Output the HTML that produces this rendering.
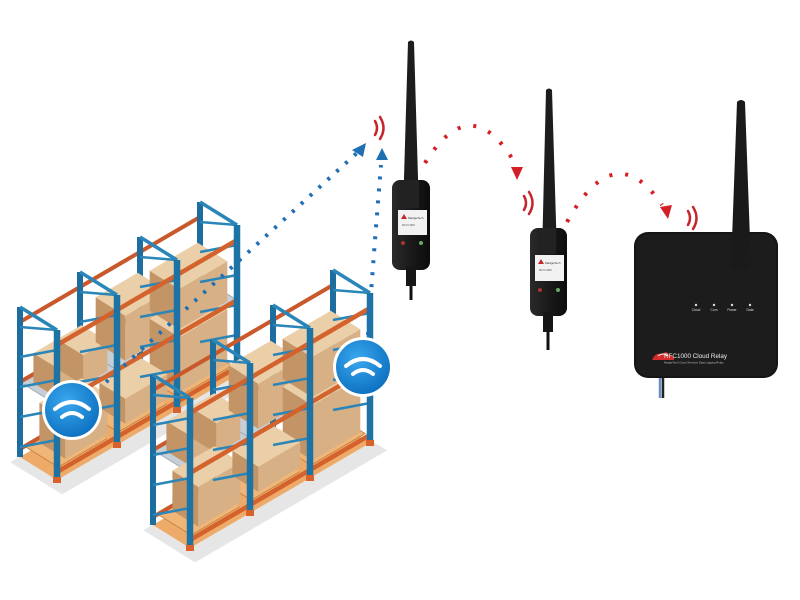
<!DOCTYPE html>
<html><head><meta charset="utf-8">
<style>html,body{margin:0;padding:0;background:#fff;width:800px;height:600px;overflow:hidden}svg{display:block}</style>
</head><body>
<svg id="s" width="800" height="600" viewBox="0 0 800 600" xmlns="http://www.w3.org/2000/svg" font-family="Liberation Sans, sans-serif">
<defs>
<radialGradient id="wg" cx="40%" cy="35%" r="70%"><stop offset="0" stop-color="#3aa8ee"/><stop offset="1" stop-color="#0b6fc0"/></radialGradient>
<linearGradient id="bod" x1="0" x2="1"><stop offset="0" stop-color="#2a2a2a"/><stop offset=".5" stop-color="#1a1a1a"/><stop offset="1" stop-color="#0c0c0c"/></linearGradient>
</defs>
<g id="racks"></g>

<!-- blue dotted connectors -->
<g stroke="#1f6fb5" stroke-width="4" stroke-dasharray="3 9" stroke-linecap="butt" fill="none">
<line x1="106" y1="382" x2="358" y2="152"/>
<path d="M368 335 Q374 250 381 165"/>
</g>
<polygon points="366,143 352,150 363,157" fill="#1f6fb5"/>
<polygon points="382,148 376,160 388,160" fill="#1f6fb5"/>

<!-- red dotted arcs -->
<g stroke="#d51f26" stroke-width="4" stroke-dasharray="3 13" fill="none">
<path d="M425 163 Q470 90 513 160"/>
<path d="M567 222 Q615 135 662 205"/>
</g>
<polygon points="511,167 523,167 517,180" fill="#d51f26"/>
<polygon points="660,207 672,205 668,219" fill="#d51f26"/>

<!-- red wave marks -->
<g stroke="#c4262d" stroke-width="2.5" fill="none" stroke-linecap="round">
<path d="M375 121 q4 7 0 14"/><path d="M380 117 q7 11 0 22"/>
<path d="M524 196 q4 7 0 14"/><path d="M529 192 q7 11 0 22"/>
<path d="M688 211 q4 7 0 14"/><path d="M693 207 q7 11 0 22"/>
</g>

<!-- repeater 1 -->
<g>
<path d="M408 42 q3 -3 6 0 l5 170 h-16 z" fill="#1d1d1d"/>
<line x1="411" y1="285" x2="411" y2="300" stroke="#111" stroke-width="3"/>
<rect x="392" y="180" width="38" height="90" rx="8" fill="url(#bod)"/>
<rect x="403" y="180" width="16" height="28" fill="#222"/>
<rect x="406" y="266" width="10" height="20" fill="#161616"/>
<rect x="398" y="210" width="29" height="25" fill="#f2f2f2"/>
<polygon points="401,219 404,214 407,219" fill="#c52a2a"/>
<text x="408" y="219" font-size="3" fill="#333">MadgeTech</text>
<text x="402" y="226" font-size="3" fill="#555">RFC1000</text>
<circle cx="403" cy="243" r="2" fill="#a33"/><circle cx="421" cy="243" r="2" fill="#6a6"/>
</g>
<!-- repeater 2 -->
<g>
<path d="M546 90 q3 -3 6 0 l5 165 h-15 z" fill="#1d1d1d"/>
<line x1="548" y1="330" x2="548" y2="350" stroke="#111" stroke-width="3"/>
<rect x="530" y="228" width="37" height="88" rx="8" fill="url(#bod)"/>
<rect x="541" y="228" width="15" height="26" fill="#222"/>
<rect x="543" y="312" width="10" height="20" fill="#161616"/>
<rect x="535" y="255" width="29" height="26" fill="#f2f2f2"/>
<polygon points="538,264 541,259 544,264" fill="#c52a2a"/>
<text x="545" y="264" font-size="3" fill="#333">MadgeTech</text>
<text x="539" y="271" font-size="3" fill="#555">RFC1000</text>
<circle cx="540" cy="290" r="2" fill="#a33"/><circle cx="558" cy="290" r="2" fill="#6a6"/>
</g>

<!-- relay -->
<g>
<line x1="660" y1="375" x2="660" y2="398" stroke="#6a8fc0" stroke-width="2.5"/>
<line x1="663" y1="375" x2="663" y2="398" stroke="#222" stroke-width="2.5"/>
<rect x="634" y="232" width="144" height="146" rx="14" fill="#151515"/>
<rect x="636" y="234" width="140" height="142" rx="13" fill="#1c1c1c"/>
<path d="M737 102 q4 -4 8 0 l6 165 q-10 6 -20 0 z" fill="#1a1a1a"/>
<g fill="#ddd" font-size="3.3" text-anchor="middle">
<circle cx="696" cy="305" r="1.2"/><text x="696" y="311">Cloud</text>
<circle cx="714" cy="305" r="1.2"/><text x="714" y="311">Com</text>
<circle cx="732" cy="305" r="1.2"/><text x="732" y="311">Power</text>
<circle cx="750" cy="305" r="1.2"/><text x="750" y="311">Data</text>
</g>
<path d="M652 360 q3 -8 10 -6 q4 -4 8 1 q4 0 4 5 z" fill="#d52b2b"/>
<path d="M658 356 q5 -4 10 0" stroke="#fff" stroke-width="1" fill="none"/>
<text x="664" y="358" font-size="6.3" fill="#eee">RFC1000 Cloud Relay</text>
<text x="664" y="363.5" font-size="2.8" fill="#bbb">MadgeTech Cloud Services Data Logging Relay</text>
</g>

<!-- wifi badges -->
<g id="wifi"></g>
</svg>
<script>
var NS="http://www.w3.org/2000/svg",R=document.getElementById('racks');
function el(t,a,p){var e=document.createElementNS(NS,t);for(var k in a)e.setAttribute(k,a[k]);(p||R).appendChild(e);return e;}
function rack(ox,oy){
 var H=150;
 function P(s,t,h){return [ox+60*s+37*t, oy-35*s+23*t-h];}
 function pts(a){return a.map(function(p){return p[0].toFixed(1)+','+p[1].toFixed(1)}).join(' ');}
 // shadow
 el('polygon',{points:pts([P(-0.1,-0.1,-4),P(3.1,-0.1,-4),P(3.1,1.3,-4),P(-0.1,1.3,-4)]),fill:'#e6e6e6'});
 // floors & pallets
 for(var k=0;k<3;k++){
  el('polygon',{points:pts([P(k,0,0),P(k+1,0,0),P(k+1,1,0),P(k,1,0)]),fill:'#eeaa68'});
  el('polygon',{points:pts([P(k+.05,.05,10),P(k+.95,.05,10),P(k+.95,.95,10),P(k+.05,.95,10)]),fill:'#f0b678',stroke:'#c98545','stroke-width':1});
  el('polygon',{points:pts([P(k,0,75),P(k+1,0,75),P(k+1,1,75),P(k,1,75)]),fill:'#c6ced6',stroke:'#9aa6b0','stroke-width':.8});
 }
 // back beams
 [8,75,135].forEach(function(h){var a=P(0,0,h),b=P(3,0,h);el('line',{x1:a[0],y1:a[1],x2:b[0],y2:b[1],stroke:'#c9582a','stroke-width':4});});
 // back posts
 for(var k=0;k<4;k++){var a=P(k,0,0),b=P(k,0,H);el('line',{x1:a[0],y1:a[1],x2:b[0],y2:b[1],stroke:'#1d6e9e','stroke-width':6});}
 // boxes
 function box(s0,s1,t0,t1,h0,bh){var h1=h0+bh;
  el('polygon',{points:pts([P(s0,t0,h0),P(s0,t1,h0),P(s0,t1,h1),P(s0,t0,h1)]),fill:'#c39466'});
  el('polygon',{points:pts([P(s0,t1,h0),P(s1,t1,h0),P(s1,t1,h1),P(s0,t1,h1)]),fill:'#d8b085'});
  el('polygon',{points:pts([P(s0,t0,h1),P(s1,t0,h1),P(s1,t1,h1),P(s0,t1,h1)]),fill:'#ebcfa8'});}
 box(0.1,.5,.2,.9,75,30);box(.5,.9,.2,.9,75,30);
 box(1.2,1.9,.1,.9,75,45);box(2.1,2.9,.1,.9,12,55);box(2.1,2.9,.1,.9,75,40);
 box(0.2,0.9,.2,.9,12,40);box(1.2,1.9,.2,.9,12,25);
 // bracing per frame
 for(var k=0;k<4;k++){
  [[10,40],[40,70],[70,100],[100,130],[130,150]].forEach(function(r,i){
   var a=P(k,0,r[0]),b=P(k,1,r[1]);el('line',{x1:a[0],y1:a[1],x2:b[0],y2:b[1],stroke:'#2a86b8','stroke-width':2.5});
  });
  var a=P(k,0,H),b=P(k,1,H);el('line',{x1:a[0],y1:a[1],x2:b[0],y2:b[1],stroke:'#2a86b8','stroke-width':3.5});
 }
 // front beams
 [8,75,135].forEach(function(h){var a=P(0,1,h),b=P(3,1,h);el('line',{x1:a[0],y1:a[1],x2:b[0],y2:b[1],stroke:'#d3622c','stroke-width':4.5});});
 // front posts
 for(var k=0;k<4;k++){var a=P(k,1,0),b=P(k,1,H);el('line',{x1:a[0],y1:a[1],x2:b[0],y2:b[1],stroke:'#1e73a5','stroke-width':6.5});
  el('rect',{x:a[0]-4,y:a[1]-3,width:8,height:6,fill:'#d9612c'});}
}
rack(20,457);rack(153,525);
var W=document.getElementById('wifi');
[[72,410],[363,367]].forEach(function(c){
 el('circle',{cx:c[0],cy:c[1],r:30,fill:'#fff'},W);
 el('circle',{cx:c[0],cy:c[1],r:27,fill:'url(#wg)'},W);
 el('path',{d:'M'+(c[0]-17)+' '+(c[1]-1)+' q17 -14 34 0',stroke:'#fff','stroke-width':4,fill:'none','stroke-linecap':'round'},W);
 el('path',{d:'M'+(c[0]-10)+' '+(c[1]+7)+' q10 -8 20 0',stroke:'#fff','stroke-width':4,fill:'none','stroke-linecap':'round'},W);
});
</script>
</body></html>
